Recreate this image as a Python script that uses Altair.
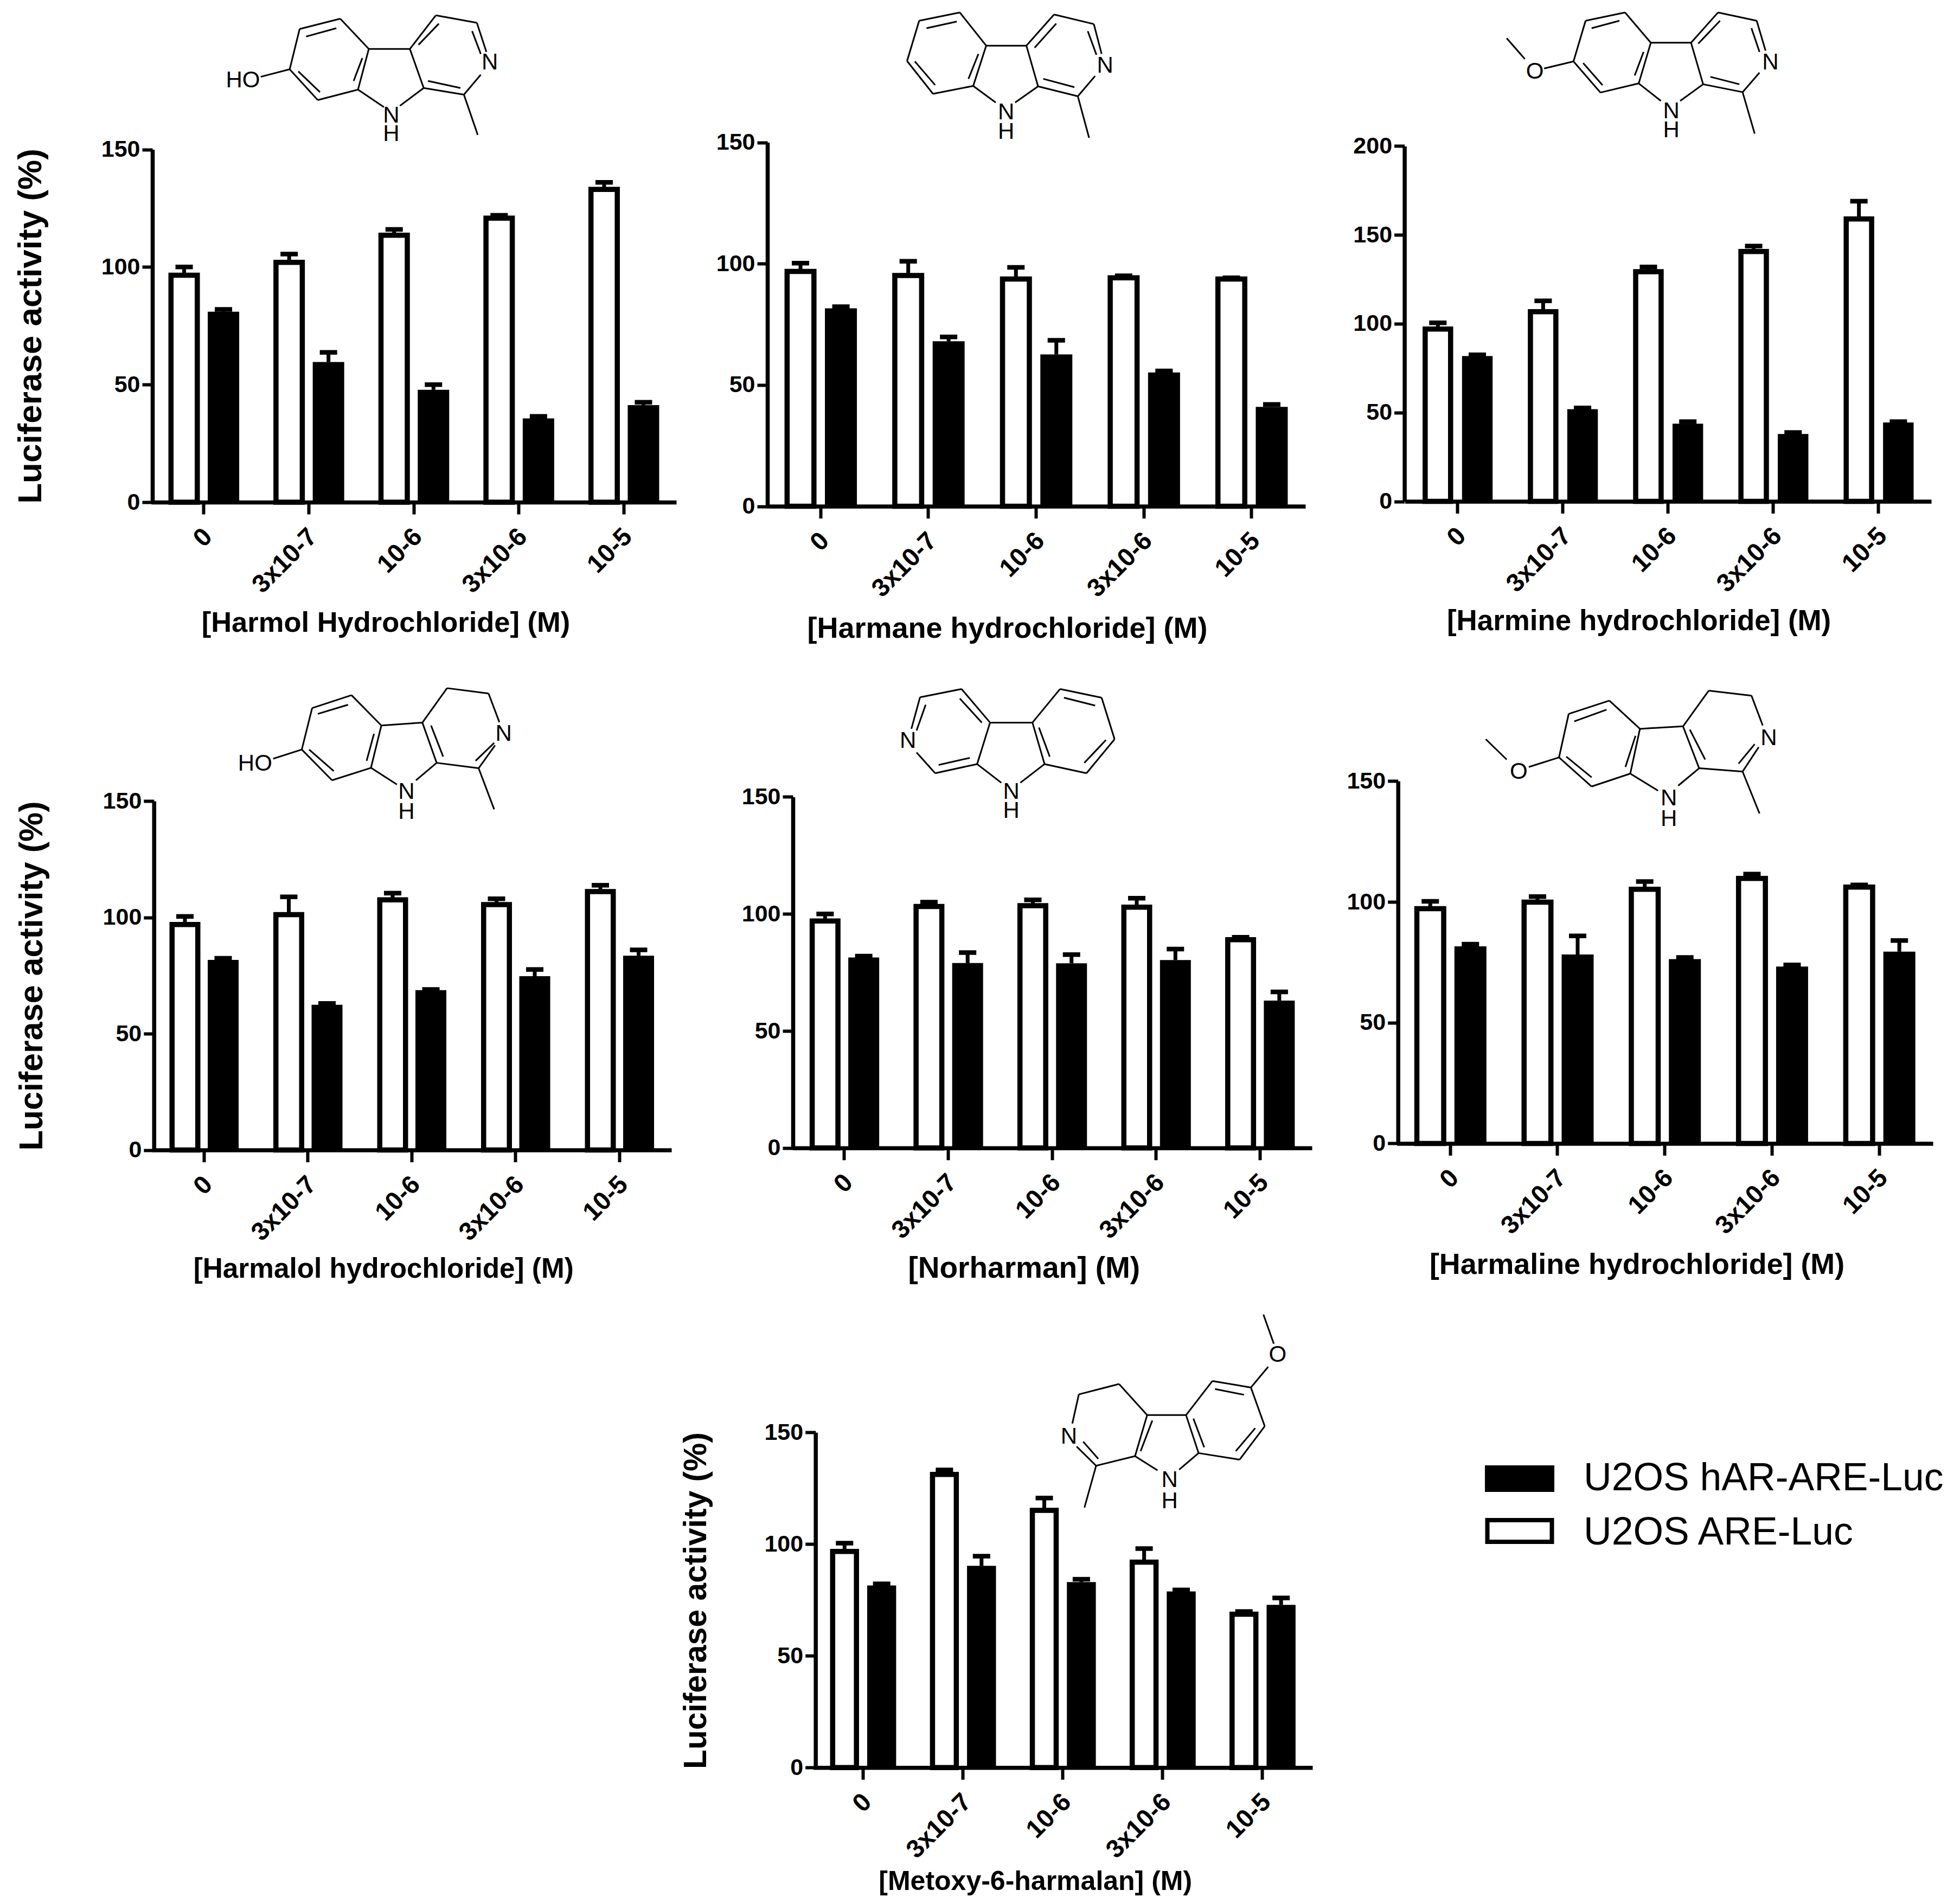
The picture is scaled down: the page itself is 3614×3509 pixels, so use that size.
import altair as alt
import pandas as pd

CONC = ["0", "3x10-7", "10-6", "3x10-6", "10-5"]
S_ARE = "U2OS ARE-Luc"
S_HAR = "U2OS hAR-ARE-Luc"

# values: open bars, their error tops, filled bars, their error tops
HARMOL_ARE = [96.5, 102, 113.5, 120.8, 133]
HARMOL_ARE_TOP = [100, 105.5, 116, 122, 136]
HARMOL_HAR = [81, 59.6, 47.8, 35.6, 41.3]
HARMOL_HAR_TOP = [82, 63.7, 50, 36.5, 42.5]

HARMANE_ARE = [96.8, 95.1, 93.7, 94.2, 93.7]
HARMANE_ARE_TOP = [100.2, 101, 98.5, 95, 94.2]
HARMANE_HAR = [81.6, 68, 62.6, 55.2, 41]
HARMANE_HAR_TOP = [82.3, 69.8, 68.4, 55.8, 42]

HARMINE_ARE = [97, 106.8, 129.3, 140.7, 159]
HARMINE_ARE_TOP = [100.5, 112.9, 132, 143.7, 169]
HARMINE_HAR = [81.8, 51.9, 43.7, 37.9, 44.4]
HARMINE_HAR_TOP = [82.5, 52.6, 44.9, 38.8, 44.9]

HARMALOL_ARE = [96.9, 101.2, 107.5, 105.5, 111.1]
HARMALOL_ARE_TOP = [100.4, 108.8, 110.4, 108, 113.8]
HARMALOL_HAR = [81.7, 62.4, 68.7, 74.7, 83.5]
HARMALOL_HAR_TOP = [82.4, 63, 69, 77.6, 86]

NORHARMAN_ARE = [97, 103.2, 103.5, 102.9, 89]
NORHARMAN_ARE_TOP = [100, 105, 106, 106.7, 90]
NORHARMAN_HAR = [81.4, 79, 78.9, 80.3, 63]
NORHARMAN_HAR_TOP = [82, 83.5, 82.6, 85, 66.7]

HARMALINE_ARE = [97.2, 99.9, 105.2, 109.7, 106.1]
HARMALINE_ARE_TOP = [100.2, 102.2, 108.4, 111.5, 107]
HARMALINE_HAR = [81.6, 78.2, 76.3, 73.2, 79.4]
HARMALINE_HAR_TOP = [82.5, 85.9, 77, 73.9, 84]

METOXY_ARE = [96.7, 131.2, 115.1, 91.9, 68.6]
METOXY_ARE_TOP = [100.4, 133.2, 120.6, 98, 69.8]
METOXY_HAR = [81.5, 90.3, 83, 78.8, 72.8]
METOXY_HAR_TOP = [82.2, 94.6, 84.3, 79.5, 75.9]

# structure line art, drawn in each panel's own sketch coordinates (0-1568 per side)
def ring(points):
    return [points[i] + points[(i + 1) % len(points)] for i in range(len(points))]

M1_BONDS = ring([(693,70),(787,45),(853,118),(828,216),(735,241),(670,167)]) + [
    (708,88,778,68),(838,140,818,195),(740,222,690,172),(853,118,948,118),(948,118,980,212),
    (828,216,888,258),(980,212,925,255),(948,118,1008,37),(1008,37,1103,55),(1103,55,1125,125),
    (1112,180,1073,228),(1073,228,980,212),(968,108,1015,57),(1092,75,1112,130),(990,195,1065,212),
    (1073,228,1105,325),(670,167,603,185)]
M1_ATOMS = [("HO",562,193),("N",1133,150),("N",905,278),("H",905,323)]

M2_BONDS = ring([(530,147),(558,50),(652,30),(713,110),(683,207),(590,226)]) + [
    (575,68,645,52),(695,130,672,190),(548,148,595,205),(713,110,806,110),(806,110,833,208),
    (683,207,735,247),(833,208,780,247),(806,110,870,35),(870,35,962,58),(962,58,980,130),
    (965,183,925,232),(925,232,833,208),(825,115,875,57),(948,75,968,132),(845,190,917,210),
    (925,232,951,332)]
M2_ATOMS = [("N",988,158),("N",759,270),("H",759,318)]

M3_BONDS = ring([(608,148),(638,50),(736,30),(800,103),(770,201),(675,223)]) + [
    (653,68,722,50),(782,125,760,182),(632,152,680,205),(800,103,900,103),(900,103,930,203),
    (770,201,825,243),(930,203,873,243),(900,103,967,30),(967,30,1063,50),(1063,50,1085,122),
    (1070,175,1028,222),(1028,222,930,203),(918,105,972,50),(1050,68,1070,125),(948,185,1020,203),
    (1028,222,1058,322),(608,148,535,165),(487,142,442,92)]
M3_ATOMS = [("O",512,172),("N",1097,150),("N",851,268),("H",851,313)]

M4_BONDS = ring([(698,238),(722,138),(813,107),(882,180),(858,282),(768,312)]) + [
    (735,152,805,130),(865,200,848,265),(715,238,772,290),(882,180,977,173),(977,173,1010,270),
    (858,282,918,322),(1010,270,962,312),(977,173,1034,90),(1034,90,1130,103),(1130,103,1155,172),
    (1145,228,1107,283),(1143,222,1100,265),(1010,270,1107,283),(997,180,1025,255),
    (1107,283,1143,382),(698,238,632,260)]
M4_ATOMS = [("HO",590,272),("N",1165,200),("N",940,340),("H",940,388)]

M5_BONDS = ring([(820,173),(884,92),(980,113),(1010,213),(945,295),(848,273)]) + [
    (560,112,656,92),(656,92,722,173),(722,173,692,273),(692,273,595,295),(595,295,552,245),
    (560,112,540,188),(573,130,552,192),(652,115,703,173),(603,275,675,258),(893,113,965,132),
    (990,215,940,270),(835,185,860,255),(722,173,820,173),(692,273,748,318),(848,273,792,318)]
M5_ATOMS = [("N",532,217),("N",771,340),("H",771,385)]

M6_BONDS = ring([(572,257),(596,152),(697,120),(773,188),(749,296),(653,327)]) + [
    (610,170,690,142),(762,205,737,280),(590,255,653,305),(773,188,880,182),(880,182,920,283),
    (749,296,818,337),(920,283,868,325),(880,182,944,96),(944,96,1050,108),(1050,108,1078,180),
    (1068,232,1028,291),(1058,225,1018,272),(920,283,1028,291),(897,190,935,262),
    (1028,291,1070,392),(572,257,497,280),(442,262,390,213)]
M6_ATOMS = [("O",472,292),("N",1093,210),("N",845,355),("H",845,405)]

M7_BONDS = ring([(1299,207),(1388,224),(1420,325),(1362,412),(1267,395),(1238,296)]) + [
    (1305,228,1372,243),(1398,330,1353,390),(1255,305,1280,380),(1238,296,1148,296),(1148,296,1120,403),
    (1267,395,1222,438),(1120,403,1172,440),(1148,296,1083,215),(1083,215,990,242),(990,242,975,318),
    (985,378,1030,428),(1000,365,1035,410),(1120,403,1030,428),(1160,310,1133,390),
    (1030,428,1003,537),(1388,224,1428,170),(1441,110,1417,34)]
M7_ATOMS = [("O",1450,138),("N",967,352),("N",1200,465),("H",1200,520)]

M = 8  # page margin
FONT = "Liberation Sans"
W, H = 3598, 3493

PANELS = [
    dict(are=HARMOL_ARE, are_top=HARMOL_ARE_TOP, har=HARMOL_HAR, har_top=HARMOL_HAR_TOP,
         x0=279, x1=1247, axis_x=281, y0=926, ytop=275.5, ymax=150, ticks=[0,50,100,150],
         bar=58, gap=14.5, title="[Harmol Hydrochloride] (M)", tfs=52.5, tx=711, ty=1148,
         ylab=(56, 601, 62), bonds=M1_BONDS, atoms=M1_ATOMS, crop=(0,0,1250,1200)),
    dict(are=HARMANE_ARE, are_top=HARMANE_ARE_TOP, har=HARMANE_HAR, har_top=HARMANE_HAR_TOP,
         x0=1414, x1=2407, axis_x=1415, y0=933.6, ytop=262.5, ymax=150, ticks=[0,50,100,150],
         bar=59, gap=15.5, title="[Harmane hydrochloride] (M)", tfs=54, tx=1857, ty=1159.4,
         ylab=None, bonds=M2_BONDS, atoms=M2_ATOMS, crop=(1250,0,1250,1200)),
    dict(are=HARMINE_ARE, are_top=HARMINE_ARE_TOP, har=HARMINE_HAR, har_top=HARMINE_HAR_TOP,
         x0=2590.6, x1=3561, axis_x=2589.6, y0=924.5, ytop=269.4, ymax=200, ticks=[0,50,100,150,200],
         bar=56.4, gap=16.3, title="[Harmine hydrochloride] (M)", tfs=52.9, tx=3021.6, ty=1145.6,
         ylab=None, bonds=M3_BONDS, atoms=M3_ATOMS, crop=(2450,0,1164,1200)),
    dict(are=HARMALOL_ARE, are_top=HARMALOL_ARE_TOP, har=HARMALOL_HAR, har_top=HARMALOL_HAR_TOP,
         x0=280.5, x1=1238, axis_x=283.8, y0=2120.6, ytop=1477, ymax=150, ticks=[0,50,100,150],
         bar=57, gap=13.5, title="[Harmalol hydrochloride] (M)", tfs=51.3, tx=706.7, ty=2340,
         ylab=(60, 1799, 61), bonds=M4_BONDS, atoms=M4_ATOMS, crop=(0,1200,1250,1200)),
    dict(are=NORHARMAN_ARE, are_top=NORHARMAN_ARE_TOP, har=NORHARMAN_HAR, har_top=NORHARMAN_HAR_TOP,
         x0=1461.2, x1=2419, axis_x=1462, y0=2116.8, ytop=1469.4, ymax=150, ticks=[0,50,100,150],
         bar=57, gap=14.3, title="[Norharman] (M)", tfs=55, tx=1887.8, ty=2338,
         ylab=None, bonds=M5_BONDS, atoms=M5_ATOMS, crop=(1250,1200,1250,1200)),
    dict(are=HARMALINE_ARE, are_top=HARMALINE_ARE_TOP, har=HARMALINE_HAR, har_top=HARMALINE_HAR_TOP,
         x0=2575.4, x1=3564, axis_x=2577.7, y0=2108.4, ytop=1440.3, ymax=150, ticks=[0,50,100,150],
         bar=59, gap=15, title="[Harmaline hydrochloride] (M)", tfs=53.8, tx=3018, ty=2332.6,
         ylab=None, bonds=M6_BONDS, atoms=M6_ATOMS, crop=(2450,1200,1164,1200)),
    dict(are=METOXY_ARE, are_top=METOXY_ARE_TOP, har=METOXY_HAR, har_top=METOXY_HAR_TOP,
         x0=1499.4, x1=2420, axis_x=1503.7, y0=3259.2, ytop=2641.2, ymax=150, ticks=[0,50,100,150],
         bar=53.4, gap=15, title="[Metoxy-6-harmalan] (M)", tfs=50, tx=1908.7, ty=3469,
         ylab=(1283.7, 2951, 58.8), bonds=M7_BONDS, atoms=M7_ATOMS, crop=(1200,2400,1250,1109)),
]

STROKE = 9.5


def panel(p):
    rows = []
    for i, c in enumerate(CONC):
        rows.append(dict(conc=c, series=S_ARE, value=p["are"][i], top=p["are_top"][i]))
        rows.append(dict(conc=c, series=S_HAR, value=p["har"][i], top=p["har_top"][i]))
    df = pd.DataFrame(rows)

    step = (p["x1"] - p["x0"]) / 5
    band = 2 * p["bar"] + p["gap"]
    pi = 1 - band / step
    xscale = alt.Scale(domain=CONC, range=[p["x0"] - M, p["x1"] - M], paddingInner=pi, paddingOuter=pi / 2)
    offscale = alt.Scale(domain=[S_ARE, S_HAR], paddingInner=p["gap"] / (p["bar"] + p["gap"]), paddingOuter=0)
    yscale = alt.Scale(domain=[0, p["ymax"]], range=[p["y0"] - M, p["ytop"] - M], nice=False, zero=False)

    yaxis_kw = dict(orient="left", offset=-(p["axis_x"] - M), values=p["ticks"], grid=False, zindex=1,
                    domainColor="black", domainWidth=7.5, tickColor="black", tickWidth=6, tickSize=19,
                    labelFont=FONT, labelFontSize=43, labelFontWeight="bold", labelColor="black", labelPadding=4)
    if p["ylab"]:
        lx, ly, lf = p["ylab"]
        yaxis_kw.update(title="Luciferase activity (%)", titleFont=FONT, titleFontWeight="bold", titleFontSize=lf,
                        titleColor="black", titleX=lx - p["axis_x"], titleY=ly - M, titleAngle=270,
                        titleAlign="center", titleBaseline="middle")
    else:
        yaxis_kw.update(title="")
    yaxis = alt.Axis(**yaxis_kw)

    xaxis = alt.Axis(orient="bottom", offset=(p["y0"] - M) - H, grid=False, zindex=1,
                     domainColor="black", domainWidth=7.5, tickColor="black", tickWidth=6, tickSize=22,
                     labelFont=FONT, labelFontSize=47, labelFontWeight="bold", labelColor="black",
                     labelAngle=315, labelAlign="right", labelBaseline="middle", labelPadding=34, labelOffset=8,
                     title=p["title"], titleFont=FONT, titleFontWeight="bold", titleFontSize=p["tfs"],
                     titleColor="black", titleX=p["tx"] - M, titleY=p["ty"] - p["y0"],
                     titleAlign="center", titleBaseline="middle")

    xoff = alt.XOffset("series:N", scale=offscale)
    xenc = alt.X("conc:N", scale=xscale, axis=xaxis)
    yenc = alt.Y("value:Q", scale=yscale, axis=yaxis)

    rule = alt.Chart(df).mark_rule(color="black", strokeWidth=7).encode(
        x=xenc, xOffset=xoff, y=yenc, y2="top:Q")
    cap = alt.Chart(df).mark_tick(color="black", opacity=1, orient="horizontal", size=32, thickness=8.5).encode(
        x=xenc, xOffset=xoff, y=alt.Y("top:Q", scale=yscale, axis=yaxis))
    white = alt.Chart(df[df.series == S_ARE]).mark_bar(
        size=p["bar"] - STROKE, fill="white", stroke="black", strokeWidth=STROKE, cornerRadius=0).encode(
        x=xenc, xOffset=xoff, y=yenc)
    black = alt.Chart(df[df.series == S_HAR]).mark_bar(size=p["bar"], fill="black").encode(
        x=xenc, xOffset=xoff, y=yenc)
    bars = alt.layer(rule, cap, white, black)

    cx, cy, cw, ch = p["crop"]
    mx = alt.Scale(domain=[0, 1568], range=[cx - M, cx + cw - M], nice=False, zero=False)
    my = alt.Scale(domain=[0, 1568], range=[cy - M, cy + ch - M], nice=False, zero=False)
    bdf = pd.DataFrame(p["bonds"], columns=["x1", "y1", "x2", "y2"])
    adf = pd.DataFrame(p["atoms"], columns=["t", "x", "y"])
    b = alt.Chart(bdf).mark_rule(color="black", strokeWidth=3).encode(
        x=alt.X("x1:Q", scale=mx, axis=None), x2="x2:Q",
        y=alt.Y("y1:Q", scale=my, axis=None), y2="y2:Q")
    a = alt.Chart(adf).mark_text(font=FONT, fontSize=42, color="black", align="center", baseline="middle").encode(
        x=alt.X("x:Q", scale=mx, axis=None), y=alt.Y("y:Q", scale=my, axis=None), text="t:N")
    return bars, alt.layer(b, a)


# legend, from the two series names
LEGEND_NAMES = [S_HAR, S_ARE]


def legend():
    lx = alt.Scale(domain=[2650, 3614], range=[2650 - M, 3614 - M], nice=False, zero=False)
    df = pd.DataFrame({"name": LEGEND_NAMES, "x": [2738, 2742.5], "x2": [2866, 2861.5],
                       "y": [2702, 2803], "y2": [2751, 2843], "tx": [2920, 2920], "ty": [2727, 2827]})
    py = alt.Scale(domain=[0, H], range=[-M, H - M], nice=False, zero=False)
    hb = alt.Chart(df[df.name == S_HAR]).mark_rect(fill="black").encode(
        x=alt.X("x:Q", scale=lx, axis=None), x2="x2:Q", y=alt.Y("y:Q", scale=py, axis=None), y2="y2:Q")
    ab = alt.Chart(df[df.name == S_ARE]).mark_rect(fill="white", stroke="black", strokeWidth=8).encode(
        x=alt.X("x:Q", scale=lx, axis=None), x2="x2:Q", y=alt.Y("y:Q", scale=py, axis=None), y2="y2:Q")
    tx = alt.Chart(df).mark_text(font=FONT, fontSize=71.5, color="black", align="left", baseline="middle").encode(
        x=alt.X("tx:Q", scale=lx, axis=None), y=alt.Y("ty:Q", scale=py, axis=None), text="name:N")
    return alt.layer(hb, ab, tx)


layers = []
for p in PANELS:
    bars, mol = panel(p)
    layers += [bars, mol]
layers.append(legend())

chart = alt.layer(*layers).resolve_scale(x="independent", y="independent", xOffset="independent").resolve_axis(
    x="independent", y="independent").properties(
    width=W, height=H, padding=0, autosize=alt.AutoSizeParams(type="none"), background="white"
).configure_view(stroke=None)

chart.save("out.html", embed_options={"renderer": "svg", "actions": False})
